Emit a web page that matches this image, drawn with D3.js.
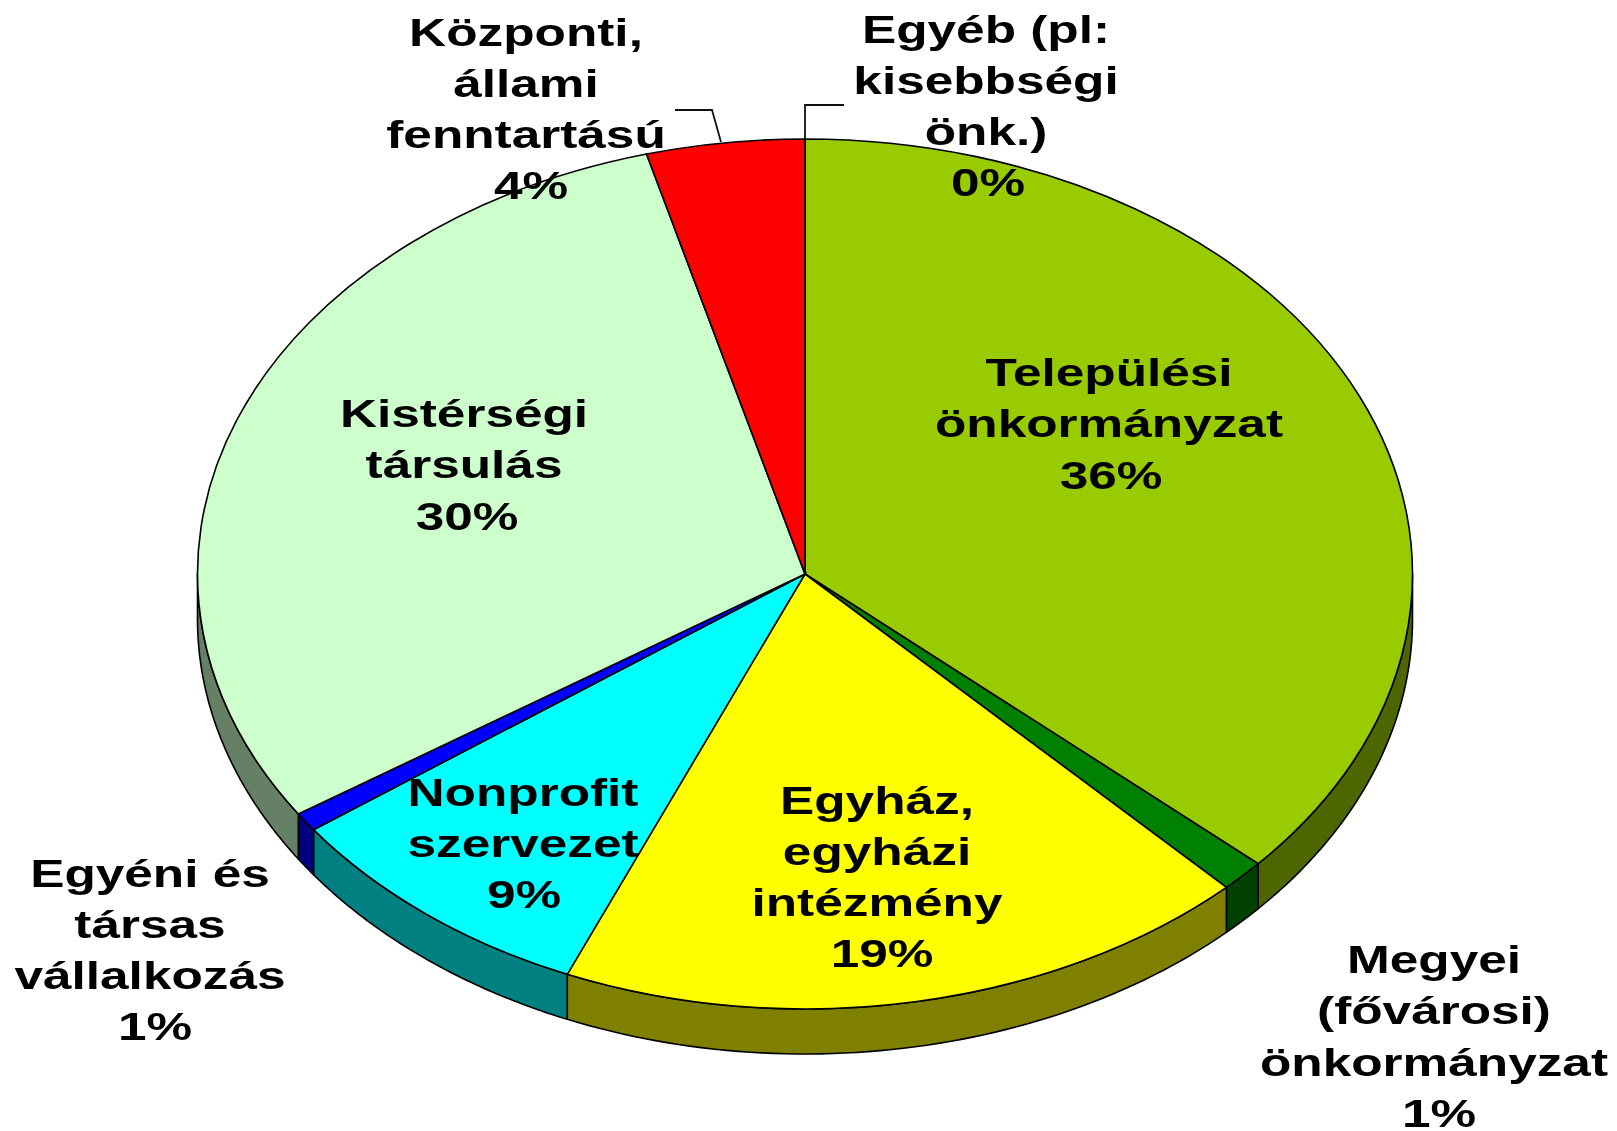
<!DOCTYPE html>
<html>
<head>
<meta charset="utf-8">
<script src="https://cdn.jsdelivr.net/npm/d3@7"></script>
<style>
html,body{margin:0;padding:0;background:#fff;overflow:hidden}
text{font-family:"Liberation Sans",Arial,sans-serif;font-weight:bold;fill:#000}
</style>
</head>
<body>
<svg id="chart" width="1617" height="1131"></svg>
<script>
const categories = ["Települési önkormányzat","Megyei (fővárosi) önkormányzat","Egyház, egyházi intézmény","Nonprofit szervezet","Egyéni és társas vállalkozás","Kistérségi társulás","Központi, állami fenntartású","Egyéb (pl: kisebbségi önk.)"];
const values = [36.6,1.2,18.6,8.6,0.7,30.1,4.2,0];
const topColors = ["#99CC00","#008000","#FFFF00","#00FFFF","#0000FF","#CCFFCC","#FF0000","#FF9900"];
const sideColors = ["#4D6600","#004000","#808000","#008080","#000080","#668066","#800000","#804D00"];
const labelLines = [
  ["Települési","önkormányzat","36%"],
  ["Megyei","(fővárosi)","önkormányzat","1%"],
  ["Egyház,","egyházi","intézmény","19%"],
  ["Nonprofit","szervezet","9%"],
  ["Egyéni és","társas","vállalkozás","1%"],
  ["Kistérségi","társulás","30%"],
  ["Központi,","állami","fenntartású","4%"],
  ["Egyéb (pl:","kisebbségi","önk.)","0%"]
];
// layout: label centre x and first baseline y, in page pixels
const labelX = [1109,1434,877,523,150,464,526,986];
const labelY = [386,973,813.5,805.5,886.5,427,45.5,42.5];
const percentDx = [2,5,5,1,5,3,5,2];
const leaders = [
  [[675,110],[712,110],[721,142]],
  [[805,139],[805,105],[844,105]]
];

const cx=805, cy=574, rx=607.5, ry=435, depth=45;
const lineHeight=51.3, fontSize=39.5, stretch=1.3;

const svg=d3.select("#chart");
const defs=svg.append("defs");
defs.append("filter").attr("id","soft").attr("x","-5%").attr("y","-5%").attr("width","110%").attr("height","110%")
  .append("feGaussianBlur").attr("stdDeviation",0.55);

const pie=d3.pie().sort(null).startAngle(0).endAngle(2*Math.PI);
const arcs=pie(values);
const xS=d3.scaleLinear().domain([-1,1]).range([cx-rx,cx+rx]);
const yS=d3.scaleLinear().domain([-1,1]).range([cy-ry,cy+ry]);
const px=a=>xS(Math.sin(a)), py=a=>yS(-Math.cos(a));

// side walls: visible only across the front half of the ellipse
const wall=svg.append("g");
arcs.forEach((d,i)=>{
  const a0=Math.max(d.startAngle,Math.PI/2), a1=Math.min(d.endAngle,3*Math.PI/2);
  if(a1<=a0) return;
  const steps=d3.range(0,61).map(k=>a0+(a1-a0)*k/60);
  const top=steps.map(a=>[px(a),py(a)]);
  const bottom=steps.slice().reverse().map(a=>[px(a),py(a)+depth]);
  wall.append("path").attr("d",d3.line()(top.concat(bottom))+"Z")
    .attr("fill",sideColors[i]).attr("stroke","#000").attr("stroke-width",1.6).attr("stroke-linejoin","round");
});

// top face
const arc=d3.arc().innerRadius(0).outerRadius(rx);
const face=svg.append("g").attr("transform",`translate(${cx},${cy}) scale(1,${ry/rx})`);
face.selectAll("path").data(arcs.filter(d=>d.value>0)).join("path")
  .attr("d",arc)
  .attr("fill",d=>topColors[d.index])
  .attr("stroke","#000").attr("stroke-width",1.6)
  .attr("vector-effect","non-scaling-stroke");

// leader lines
svg.append("g").selectAll("path").data(leaders).join("path")
  .attr("d",d3.line()).attr("fill","none").attr("stroke","#111").attr("stroke-width",1.8);

// labels
const lab=svg.append("g").attr("filter","url(#soft)");
labelLines.forEach((lines,i)=>{
  lines.forEach((t,j)=>{
    const dx = j===lines.length-1 ? percentDx[i] : 0;
    lab.append("text")
      .attr("transform",`translate(${labelX[i]+dx},${labelY[i]+j*lineHeight}) scale(${stretch},1)`)
      .attr("text-anchor","middle").attr("font-size",fontSize).text(t);
  });
});
</script>
</body>
</html>
